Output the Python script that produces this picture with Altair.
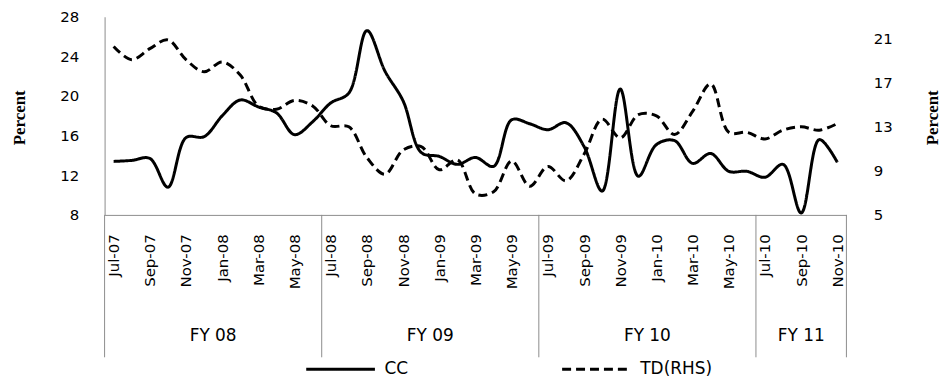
import altair as alt
import pandas as pd

months = ["Jul-07", "Aug-07", "Sep-07", "Oct-07", "Nov-07", "Dec-07",
          "Jan-08", "Feb-08", "Mar-08", "Apr-08", "May-08", "Jun-08",
          "Jul-08", "Aug-08", "Sep-08", "Oct-08", "Nov-08", "Dec-08",
          "Jan-09", "Feb-09", "Mar-09", "Apr-09", "May-09", "Jun-09",
          "Jul-09", "Aug-09", "Sep-09", "Oct-09", "Nov-09", "Dec-09",
          "Jan-10", "Feb-10", "Mar-10", "Apr-10", "May-10", "Jun-10",
          "Jul-10", "Aug-10", "Sep-10", "Oct-10", "Nov-10"]

cc = [13.4, 13.5, 13.7, 10.8, 15.8, 15.9,
      18.0, 19.6, 18.9, 18.3, 16.1, 17.4,
      19.3, 20.3, 26.6, 22.5, 19.5, 14.3,
      13.9, 13.1, 13.8, 12.9, 17.6, 17.2,
      16.6, 17.3, 14.9, 10.4, 20.7, 11.9,
      15.1, 15.5, 13.2, 14.2, 12.4, 12.4,
      11.8, 13.1, 8.2, 15.6, 13.3]

td = [20.3, 19.1, 20.1, 20.9, 19.1, 18.0,
      18.9, 17.7, 14.9, 14.6, 15.4, 14.9,
      13.1, 13.0, 10.2, 8.7, 10.9, 11.2,
      9.1, 10.0, 6.9, 7.1, 9.9, 7.6,
      9.4, 8.1, 10.5, 13.7, 12.0, 14.1,
      14.0, 12.3, 14.4, 16.9, 12.5, 12.5,
      11.9, 12.7, 13.0, 12.7, 13.3]

fy_labels = ["FY 08", "FY 09", "FY 10", "FY 11"]
fy_first = ["Jul-07", "Jul-08", "Jul-09", "Jul-10"]
fy_last = ["Jun-08", "Jun-09", "Jun-10", "Nov-10"]

cc_ticks = [8, 12, 16, 20, 24, 28]
td_ticks = [5, 9, 13, 17, 21]

series_names = ["CC", "TD(RHS)"]

n = len(months)
cc_df = pd.DataFrame({"idx": list(range(n)), "value": cc, "series": series_names[0]})
td_df = pd.DataFrame({"idx": list(range(n)), "value": td, "series": series_names[1]})

starts = [months.index(m) for m in fy_first]
ends = [months.index(m) for m in fy_last]
fy_df = pd.DataFrame({"idx": [(a + b) / 2 for a, b in zip(starts, ends)], "label": fy_labels})
sep_df = pd.DataFrame({"idx": [a - 0.5 for a in starts] + [ends[-1] + 0.5]})

GRAY = "#8c8c8c"
label_expr = "[" + ",".join("'" + m + "'" for m in months) + "][datum.value]"

xs = alt.Scale(domain=[-0.5, n - 0.5], nice=False, zero=False)
xaxis = alt.Axis(values=list(range(0, n, 2)), labelExpr=label_expr, labelAngle=270,
                 labelAlign="right", labelBaseline="middle", labelPadding=19,
                 ticks=False, grid=False, domainColor=GRAY, title=None,
                 labelFont="DejaVu Sans", labelFontSize=15, labelColor="black",
                 labelOverlap=False, labelFlush=False, labelBound=False)
x = alt.X("idx:Q", scale=xs, axis=xaxis)

dash = alt.StrokeDash(
    "series:N",
    scale=alt.Scale(domain=series_names, range=[[1, 0], [9, 5]]),
    legend=alt.Legend(orient="none", legendX=201, legendY=318, direction="horizontal",
                      title=None, symbolType="stroke", symbolSize=4761,
                      symbolStrokeWidth=3, symbolStrokeColor="black",
                      labelFont="DejaVu Sans", labelFontSize=17, labelColor="black",
                      labelOffset=8, columnPadding=148, padding=0),
)

cc_line = alt.Chart(cc_df).mark_line(interpolate="catmull-rom", color="black", strokeWidth=3).encode(
    x=x,
    y=alt.Y("value:Q", scale=alt.Scale(domain=[8, 28], nice=False, zero=False),
            axis=alt.Axis(values=cc_ticks, ticks=False, grid=False, domainColor=GRAY,
                          labelPadding=26, labelFont="DejaVu Sans", labelFontSize=15,
                          labelColor="black", title="Percent", titleFont="Liberation Serif",
                          titleFontWeight="bold", titleFontSize=17, titleColor="black",
                          titleX=-85, titleY=101, titleAngle=270, titleAlign="center",
                          titleBaseline="middle")),
    strokeDash=dash,
)

td_line = alt.Chart(td_df).mark_line(interpolate="catmull-rom", color="black", strokeWidth=3).encode(
    x=x,
    y=alt.Y("value:Q", scale=alt.Scale(domain=[5, 23], nice=False, zero=False),
            axis=alt.Axis(orient="right", values=td_ticks, ticks=False, grid=False, domain=False,
                          labelPadding=27, labelFont="DejaVu Sans", labelFontSize=15,
                          labelColor="black", title="Percent", titleFont="Liberation Serif",
                          titleFontWeight="bold", titleFontSize=17, titleColor="black",
                          titleX=86, titleY=101, titleAngle=270, titleAlign="center",
                          titleBaseline="middle")),
    strokeDash=dash,
)

seps = alt.Chart(sep_df).mark_rule(color=GRAY, strokeWidth=1).encode(
    x=x, y=alt.value(199), y2=alt.value(342)
)

fy_text = alt.Chart(fy_df).mark_text(font="DejaVu Sans", fontSize=17, color="black").encode(
    x=x, y=alt.value(321), text="label:N"
)

chart = alt.layer(cc_line, td_line, seps, fy_text).resolve_scale(y="independent").properties(
    width=745, height=199, autosize="none",
    padding={"left": 97, "top": 8, "right": 96, "bottom": 163},
    background="white",
).configure_view(stroke=None)

chart.save("out.html", embed_options={"renderer": "svg", "actions": False})
